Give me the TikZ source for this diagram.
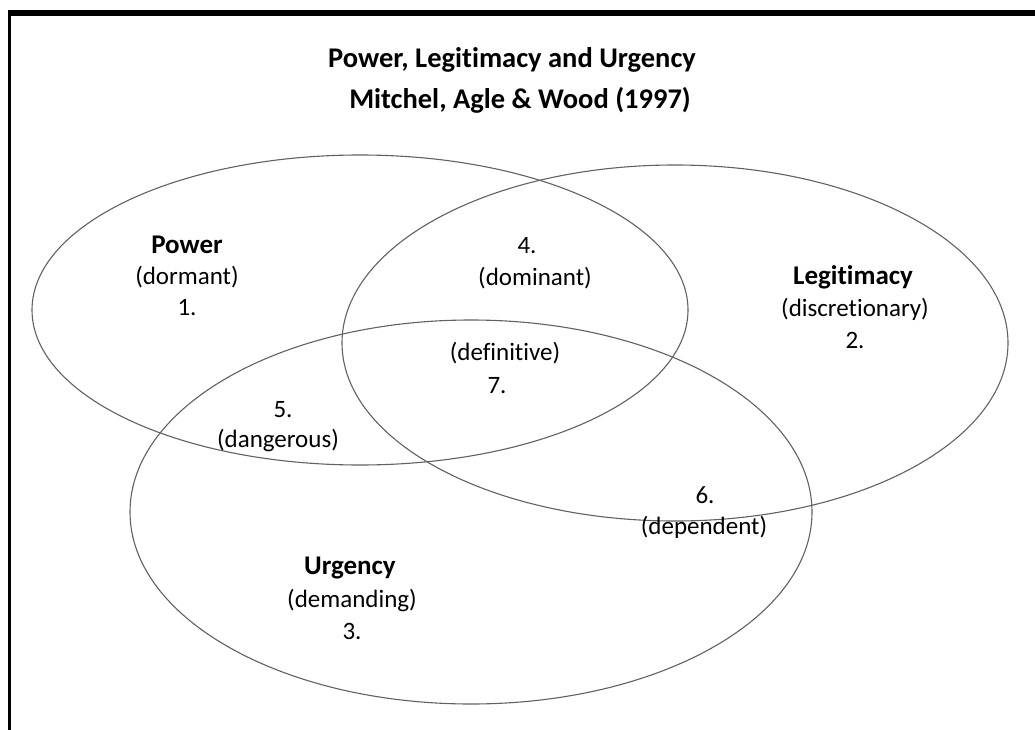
\documentclass[tikz,border=0pt]{standalone}
\usepackage{fontspec}
\setmainfont{Carlito}[Ligatures={NoCommon}]
\begin{document}
\begin{tikzpicture}[x=1pt,y=-1pt,
  ring/.style={draw=black!62,line width=1.1pt},
  lbl/.style={font=\fontsize{25}{28}\selectfont,inner sep=0pt,anchor=center},
  head/.style={font=\bfseries\fontsize{27}{30}\selectfont,inner sep=0pt,anchor=center},
  ttl/.style={font=\bfseries\fontsize{28.5}{32}\selectfont,inner sep=0pt,anchor=center}]
\useasboundingbox (0,0) rectangle (1035,730);
% frame
\draw[line width=5.5pt] (8,13) -- (1035,13);
\draw[line width=3pt] (9.5,11) -- (9.5,730);
% title
\node[ttl] (t1) at (512,60) {Power, Legitimacy and Urgency};
\node[ttl] (t2) at (520,100) {Mitchel, Agle \& Wood (1997)};
% three sets
\draw[ring] (360,310) ellipse [x radius=328, y radius=155];
\draw[ring] (675,343) ellipse [x radius=333, y radius=178];
\draw[ring] (471,512) ellipse [x radius=341, y radius=192];
% labels
\node[head] (pw) at (187,245) {Power};
\node[lbl] (pw1) at (187,277) {(dormant)};
\node[lbl] (pw2) at (187,308) {1.};
\node[lbl] (dm1) at (527,246) {4.};
\node[lbl] (dm2) at (535,278) {(dominant)};
\node[head] (lg) at (853,277) {Legitimacy};
\node[lbl] (lg1) at (855,309) {(discretionary)};
\node[lbl] (lg2) at (855,340) {2.};
\node[lbl] (df1) at (505,353) {(definitive)};
\node[lbl] (df2) at (497,386) {7.};
\node[lbl] (dg1) at (283,410) {5.};
\node[lbl] (dg2) at (278,441) {(dangerous)};
\node[lbl] (dp1) at (705,495) {6.};
\node[lbl] (dp2) at (704,527) {(dependent)};
\node[head] (ug) at (350,568) {Urgency};
\node[lbl] (ug1) at (352,600) {(demanding)};
\node[lbl] (ug2) at (352,631) {3.};
\end{tikzpicture}
\end{document}
